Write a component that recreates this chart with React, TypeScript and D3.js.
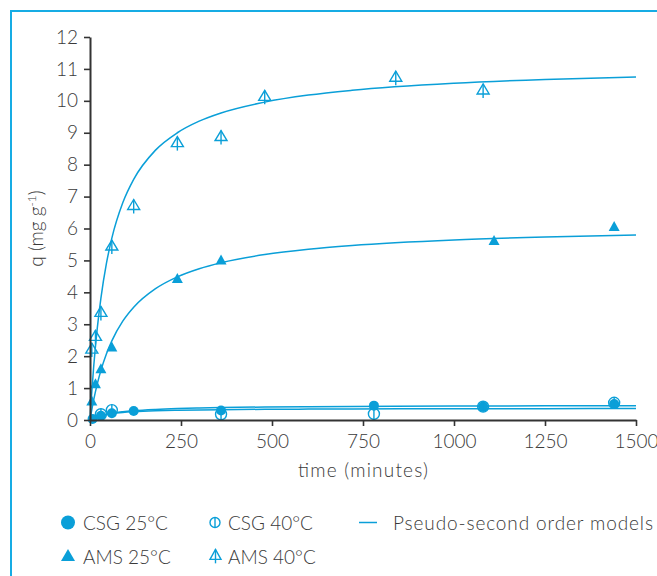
import React, { useEffect, useRef } from "react";
import * as d3 from "d3";

// ---------- data ----------
const csg25T = [7, 30, 60, 120, 360, 780, 1080, 1440];
const csg25Q = [0.03, 0.13, 0.21, 0.28, 0.3, 0.45, 0.42, 0.5];

const csg40T = [30, 60, 360, 780, 1080, 1440];
const csg40Q = [0.18, 0.31, 0.18, 0.19, 0.42, 0.54];

const ams25T = [5, 15, 30, 60, 240, 360, 1110, 1440];
const ams25Q = [0.56, 1.1, 1.57, 2.25, 4.4, 4.98, 5.59, 6.03];

const ams40T = [5, 15, 30, 60, 120, 240, 360, 480, 840, 1080];
const ams40Q = [2.2, 2.6, 3.35, 5.43, 6.7, 8.67, 8.86, 10.12, 10.72, 10.32];

// model curves (pseudo-second order)
const modelT = [0, 2, 5, 10, 20, 30, 45, 60, 90, 120, 180, 240, 300, 360, 480, 600, 720, 1000, 1250, 1500];
const modelAms40 = [0, 0.375, 0.892, 1.652, 2.877, 3.82, 4.896, 5.7, 6.807, 7.54, 8.456, 9.0, 9.363, 9.62, 9.96, 10.18, 10.33, 10.55, 10.67, 10.75];
const modelAms25 = [0, 0.136, 0.328, 0.623, 1.132, 1.555, 2.07, 2.481, 3.096, 3.534, 4.116, 4.486, 4.741, 4.929, 5.184, 5.351, 5.468, 5.641, 5.734, 5.798];
const modelCsg25 = [0, 0.012, 0.03, 0.056, 0.099, 0.135, 0.175, 0.21, 0.257, 0.29, 0.332, 0.359, 0.376, 0.389, 0.407, 0.418, 0.426, 0.437, 0.444, 0.448];
const modelCsg40 = [0, 0.014, 0.034, 0.062, 0.106, 0.139, 0.175, 0.202, 0.238, 0.261, 0.29, 0.306, 0.317, 0.325, 0.335, 0.341, 0.346, 0.352, 0.356, 0.358];

const xTicks = [0, 250, 500, 750, 1000, 1250, 1500];
const yTicks = [0, 1, 2, 3, 4, 5, 6, 7, 8, 9, 10, 11, 12];

const legendRow1 = ["CSG 25°C", "CSG 40°C", "Pseudo-second order models"];
const legendRow2 = ["AMS 25°C", "AMS 40°C"];

// ---------- style ----------
const BLUE = "#0a9fd8";
const BORDER = "#16ace4";
const AXIS = "#333333";
const TEXT = "#3a3a3a";
const FONT = "Lato, 'Open Sans', sans-serif";

const W = 657;
const H = 576;
const X0 = 90;
const X1 = 636;
const Y0 = 420;
const Y1 = 37;

const x = d3.scaleLinear().domain([0, 1500]).range([X0, X1]);
const y = d3.scaleLinear().domain([0, 12]).range([Y0, Y1]);

const line = d3
  .line<[number, number]>()
  .x((d) => x(d[0]))
  .y((d) => y(d[1]))
  .curve(d3.curveMonotoneX);

const zip = (ts: number[], qs: number[]): [number, number][] => ts.map((t, i) => [t, qs[i]]);

const triPath = (cx: number, cy: number, w: number, h: number) =>
  `M${cx - w / 2},${cy + h / 3}L${cx + w / 2},${cy + h / 3}L${cx},${cy - (2 * h) / 3}Z`;

function FilledCircle({ cx, cy, r = 5 }: { cx: number; cy: number; r?: number }) {
  return <circle cx={cx} cy={cy} r={r} fill={BLUE} />;
}
function OpenCircle({ cx, cy, r = 5.5 }: { cx: number; cy: number; r?: number }) {
  return (
    <g fill="none" stroke={BLUE} strokeWidth={1.4}>
      <circle cx={cx} cy={cy} r={r} />
      <line x1={cx} x2={cx} y1={cy - r} y2={cy + r} />
    </g>
  );
}
function FilledTri({ cx, cy, w = 11, h = 10 }: { cx: number; cy: number; w?: number; h?: number }) {
  return <path d={triPath(cx, cy, w, h)} fill={BLUE} />;
}
function OpenTri({ cx, cy, w = 12, h = 10 }: { cx: number; cy: number; w?: number; h?: number }) {
  return (
    <g fill="none" stroke={BLUE} strokeWidth={1.4}>
      <path d={triPath(cx, cy, w, h)} />
      <line x1={cx} x2={cx} y1={cy - (2 * h) / 3} y2={cy + h / 3 + 4} />
    </g>
  );
}

export default function App() {
  const xAxisRef = useRef<SVGGElement>(null);
  const yAxisRef = useRef<SVGGElement>(null);

  useEffect(() => {
    const style = (g: d3.Selection<SVGGElement, unknown, null, undefined>) => {
      g.select(".domain").attr("stroke", AXIS).attr("stroke-width", 2);
      g.selectAll(".tick line").attr("stroke", AXIS).attr("stroke-width", 1.6);
      g.selectAll(".tick text")
        .attr("fill", TEXT)
        .style("font-family", FONT)
        .style("font-size", "19px")
        .style("font-weight", "300");
    };
    if (xAxisRef.current) {
      const g = d3.select(xAxisRef.current);
      g.call(
        d3.axisBottom(x).tickValues(xTicks).tickFormat(d3.format("d")).tickSize(6).tickSizeOuter(0).tickPadding(9)
      );
      style(g);
    }
    if (yAxisRef.current) {
      const g = d3.select(yAxisRef.current);
      g.call(d3.axisLeft(y).tickValues(yTicks).tickFormat(d3.format("d")).tickSize(6).tickSizeOuter(0).tickPadding(6));
      style(g);
    }
  }, []);

  const curves = [modelAms40, modelAms25, modelCsg25, modelCsg40];

  return (
    <svg
      width={W}
      height={H}
      style={{ position: "absolute", left: 0, top: 0, background: "#fff" }}
      fontFamily={FONT}
    >
      {/* frame */}
      <line x1={11} x2={W} y1={11} y2={11} stroke={BORDER} strokeWidth={2} />
      <line x1={11} x2={11} y1={10} y2={H} stroke={BORDER} strokeWidth={2} />

      {/* model curves */}
      {curves.map((c, i) => (
        <path key={i} d={line(zip(modelT, c)) || ""} fill="none" stroke={BLUE} strokeWidth={1.5} />
      ))}

      {/* data markers */}
      {zip(csg25T, csg25Q).map(([t, q], i) => (
        <FilledCircle key={"c25" + i} cx={x(t)} cy={y(q)} />
      ))}
      {zip(ams25T, ams25Q).map(([t, q], i) => (
        <FilledTri key={"a25" + i} cx={x(t)} cy={y(q)} />
      ))}
      {zip(csg40T, csg40Q).map(([t, q], i) => (
        <OpenCircle key={"c40" + i} cx={x(t)} cy={y(q)} />
      ))}
      {zip(ams40T, ams40Q).map(([t, q], i) => (
        <OpenTri key={"a40" + i} cx={x(t)} cy={y(q)} />
      ))}

      {/* axes */}
      <g ref={xAxisRef} transform={`translate(0,${Y0})`} />
      <g ref={yAxisRef} transform={`translate(${X0},0)`} />

      {/* axis titles */}
      <text
        x={(X0 + X1) / 2}
        y={477}
        textAnchor="middle"
        fill={TEXT}
        fontSize={19}
        fontWeight={300}
        textLength={130}
        lengthAdjust="spacing"
      >
        time (minutes)
      </text>
      <text
        transform={`translate(43,${(Y0 + Y1) / 2}) rotate(-90)`}
        textAnchor="middle"
        fill={TEXT}
        fontSize={19}
        fontWeight={300}
      >
        q (mg g<tspan dy={-7} fontSize={12}>-1</tspan>
        <tspan dy={7}>)</tspan>
      </text>

      {/* legend */}
      <g fill={TEXT} fontSize={19} fontWeight={300}>
        <FilledCircle cx={68} cy={522.5} r={7} />
        <text x={83} y={529.5}>{legendRow1[0]}</text>
        <OpenCircle cx={215} cy={522.5} r={5} />
        <text x={228} y={529.5}>{legendRow1[1]}</text>
        <line x1={359} x2={377} y1={522.5} y2={522.5} stroke={BLUE} strokeWidth={1.5} />
        <text x={393} y={529.5} textLength={260} lengthAdjust="spacing">{legendRow1[2]}</text>

        <FilledTri cx={68} cy={557} w={14} h={12} />
        <text x={83} y={563.5}>{legendRow2[0]}</text>
        <OpenTri cx={215.5} cy={556} w={11} h={10} />
        <text x={228} y={563.5}>{legendRow2[1]}</text>
      </g>
    </svg>
  );
}
